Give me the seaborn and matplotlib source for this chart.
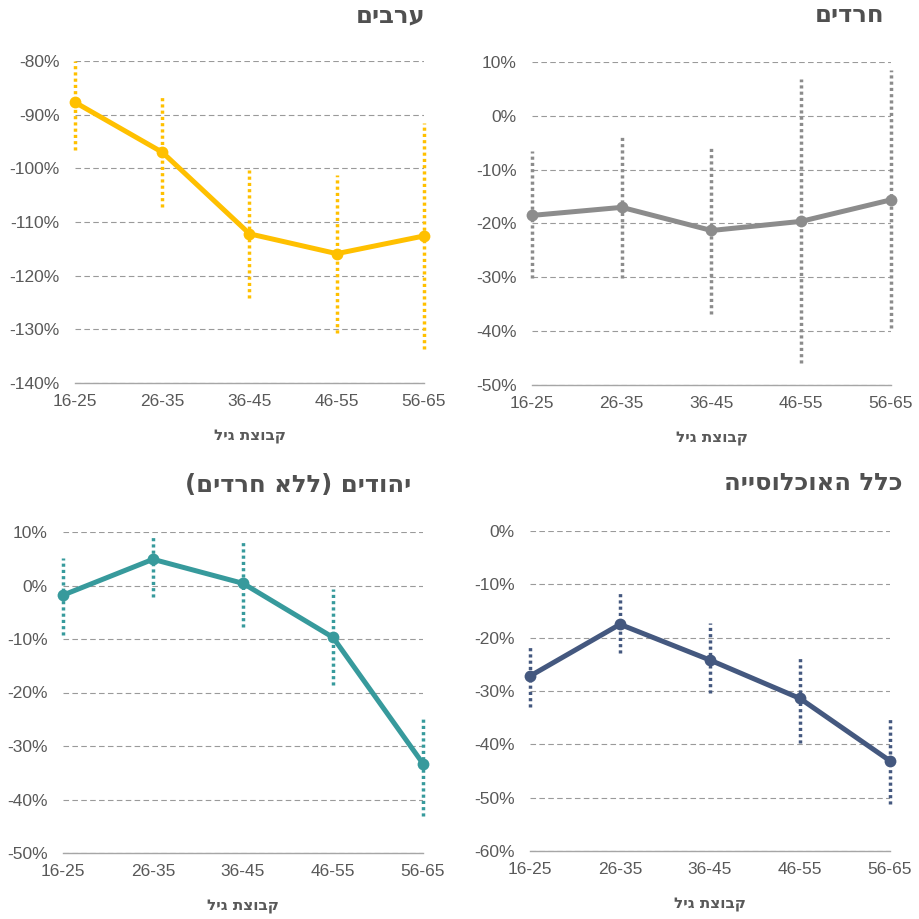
"""
Four panels: gap by age group per population, with dotted CI bars
"""

import pandas as pd
import matplotlib
matplotlib.use("Agg")
import matplotlib.pyplot as plt
from matplotlib.ticker import FuncFormatter
import seaborn as sns

AGE_GROUPS = ["16-25", "26-35", "36-45", "46-55", "56-65"]

# values in percent
ARABS = [-87.7, -97.0, -112.2, -115.9, -112.6]
ARABS_LO = [-96.6, -107.2, -124.2, -130.6, -133.7]
ARABS_HI = [-80.0, -86.5, -100.4, -101.2, -91.6]

HAREDIM = [-18.5, -17.0, -21.3, -19.6, -15.6]
HAREDIM_LO = [-30.2, -30.2, -36.8, -45.9, -39.5]
HAREDIM_HI = [-6.6, -3.8, -5.8, 6.8, 8.5]

JEWS = [-1.8, 4.9, 0.4, -9.7, -33.3]
JEWS_LO = [-9.2, -2.1, -7.7, -18.6, -43.0]
JEWS_HI = [5.1, 9.4, 8.5, -0.7, -24.3]

TOTAL = [-27.2, -17.5, -24.2, -31.4, -43.1]
TOTAL_LO = [-33.0, -22.9, -30.4, -39.8, -51.2]
TOTAL_HI = [-21.7, -11.5, -17.3, -23.5, -35.1]

TITLES = ["ערבים", "חרדים", "יהודים (ללא חרדים)", "כלל האוכלוסייה"]
XLABEL = "קבוצת גיל"

Y_LIMS = [(-140, -80), (-50, 10), (-50, 10), (-60, 0)]
COLORS = ["#FFC000", "#8C8C8C", "#379A9C", "#44587F"]

# layout in pixels of the 920x919 canvas: x0, x1, y_top, y_bottom, title right, title y
LAYOUT = [
    (75, 424, 61, 383, 425, 15),
    (532, 891, 62, 385, 884, 15),
    (63, 423, 532, 853, 411, 485),
    (530, 890, 531, 851, 903, 483),
]

TEXT_GRAY = "#595959"
HEB_FONT = ["DejaVu Sans"]
W, H = 920, 919


def rtl(s):
    """matplotlib has no bidi: put hebrew in visual order."""
    return s[::-1].translate(str.maketrans("()", ")("))


def draw_panel(fig, lay, vals, lo, hi, color, ylim, title):
    x0, x1, yt, yb, tx, ty = lay
    ax = fig.add_axes([x0 / W, 1 - yb / H, (x1 - x0) / W, (yb - yt) / H])
    df = pd.DataFrame({"age": AGE_GROUPS, "val": vals})

    # error bars first so the line sits on top
    ax.vlines(AGE_GROUPS, lo, hi, colors=color, linewidth=2.5,
              linestyles=(0, (0.9, 0.9)), zorder=2, clip_on=False)
    sns.lineplot(data=df, x="age", y="val", ax=ax, color=color, linewidth=3.6,
                 marker="o", markersize=8.5, markeredgewidth=0, sort=False,
                 zorder=3, clip_on=False)

    ax.set_xlim(0, len(AGE_GROUPS) - 1)
    ax.set_ylim(*ylim)
    ax.set_yticks(range(ylim[0], ylim[1] + 1, 10))
    ax.yaxis.set_major_formatter(FuncFormatter(lambda v, _: f"{v:.0f}%"))
    ax.grid(True, axis="y", color="#9A9A9A", linewidth=0.8, linestyle=(0, (5, 3)))
    ax.grid(False, axis="x")
    ax.set_axisbelow(True)

    for side in ["left", "right", "top"]:
        ax.spines[side].set_visible(False)
    ax.spines["bottom"].set_color("#A6A6A6")
    ax.spines["bottom"].set_linewidth(1.0)

    ax.tick_params(axis="y", length=0, pad=11, labelsize=12.5, labelcolor=TEXT_GRAY)
    ax.tick_params(axis="x", length=5, width=1.0, color="#A6A6A6", direction="out",
                   pad=3, labelsize=12.5, labelcolor=TEXT_GRAY)
    ax.set_ylabel("")
    ax.set_xlabel(rtl(XLABEL), fontsize=11, fontweight="bold", color=TEXT_GRAY,
                  labelpad=14, family=HEB_FONT)

    fig.text(tx / W, 1 - ty / H, rtl(title), ha="right", va="center",
             fontsize=17.5, fontweight="bold", color="#505050", family=HEB_FONT)


def main():
    sns.set_theme(style="white")
    plt.rcParams["font.family"] = ["Liberation Sans", "DejaVu Sans"]

    fig = plt.figure(figsize=(W / 100, H / 100), dpi=100)
    series = [
        (ARABS, ARABS_LO, ARABS_HI),
        (HAREDIM, HAREDIM_LO, HAREDIM_HI),
        (JEWS, JEWS_LO, JEWS_HI),
        (TOTAL, TOTAL_LO, TOTAL_HI),
    ]
    for lay, (v, lo, hi), color, ylim, title in zip(LAYOUT, series, COLORS, Y_LIMS, TITLES):
        draw_panel(fig, lay, v, lo, hi, color, ylim, title)

    fig.savefig("out.png", dpi=100, facecolor="white")
    plt.close(fig)


if __name__ == "__main__":
    main()
